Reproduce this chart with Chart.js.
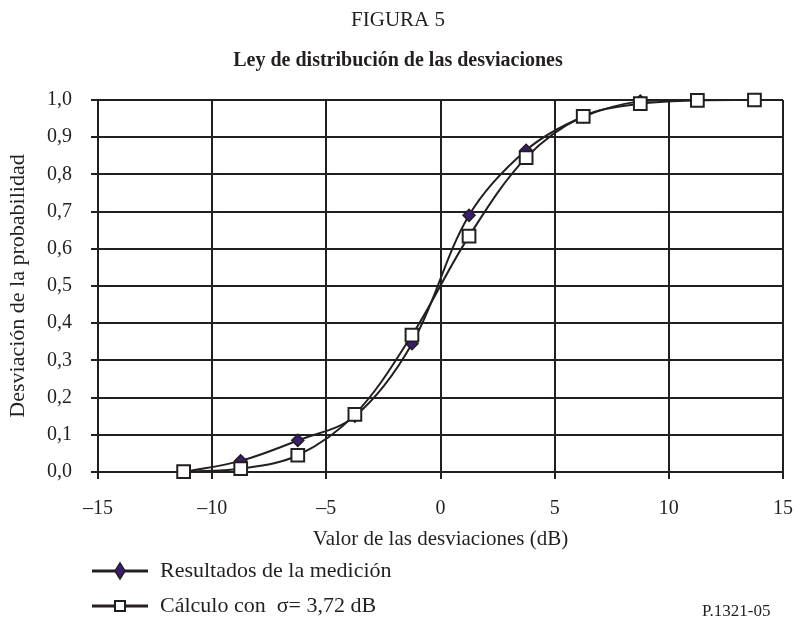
<!DOCTYPE html>
<html>
<head>
<meta charset="utf-8">
<script src="https://cdn.jsdelivr.net/npm/chart.js@4"></script>
<style>
  html, body { margin: 0; padding: 0; background: #fff; }
  #wrap { width: 796px; height: 620px; }
</style>
</head>
<body>
<div id="wrap"><canvas id="myChart" width="796" height="620"></canvas></div>
<script>
// valores
const desviaciones = [-11.25, -8.75, -6.25, -3.75, -1.25, 1.25, 3.75, 6.25, 8.75, 11.25, 13.75]
const medicion = [0.0, 0.03, 0.085, 0.15, 0.345, 0.69, 0.865, 0.955, 0.997, 1.0, 1.0]
const calculo = [0.001, 0.009, 0.045, 0.155, 0.368, 0.634, 0.845, 0.956, 0.99, 0.999, 1.0]
const xTicks = [-15, -10, -5, 0, 5, 10, 15]
const yTicks = [0, 0.1, 0.2, 0.3, 0.4, 0.5, 0.6, 0.7, 0.8, 0.9, 1.0]

const titulo = "FIGURA 5"
const subtitulo = "Ley de distribución de las desviaciones"
const nombres = ["Resultados de la medición", "Cálculo con  σ= 3,72 dB"]
const nota = "P.1321-05"

const ink = "#231f20"
const purple = "#3a1c71"

const toPoints = (xs, ys) => xs.map((x, i) => ({x: x, y: ys[i]}))

Chart.defaults.font.family = "'Liberation Serif', 'DejaVu Serif', serif"
Chart.defaults.color = ink

const textPlugin = {
   id: "textPlugin",
   afterDraw(chart) {
      const ctx = chart.ctx
      ctx.save()
      ctx.fillStyle = ink
      ctx.textAlign = "center"
      ctx.textBaseline = "middle"
      ctx.font = "21px 'Liberation Serif'"
      ctx.fillText(titulo, 398, 20)
      ctx.font = "bold 20px 'Liberation Serif'"
      ctx.fillText(subtitulo, 398, 61)

      // leyenda
      const rows = [571, 606]
      for (let i = 0; i < 2; i++) {
         const y = rows[i]
         ctx.strokeStyle = ink
         ctx.lineWidth = 3
         ctx.beginPath()
         ctx.moveTo(92, y)
         ctx.lineTo(148, y)
         ctx.stroke()
         ctx.lineWidth = 1.5
         if (i == 0) {
            ctx.fillStyle = purple
            ctx.beginPath()
            ctx.moveTo(120, y - 8)
            ctx.lineTo(125, y)
            ctx.lineTo(120, y + 8)
            ctx.lineTo(115, y)
            ctx.closePath()
            ctx.fill()
            ctx.stroke()
         } else {
            ctx.fillStyle = "#fff"
            ctx.lineWidth = 2
            ctx.fillRect(115, y - 5, 10, 10)
            ctx.strokeRect(115, y - 5, 10, 10)
         }
         ctx.fillStyle = ink
         ctx.textAlign = "left"
         ctx.font = "22px 'Liberation Serif'"
         ctx.fillText(nombres[i], 160, y)
      }
      ctx.font = "17px 'Liberation Serif'"
      ctx.fillText(nota, 702, 612)
      ctx.restore()
   }
}

const config = {
   type: "scatter",
   data: {
      datasets: [{
         label: nombres[1],
         data: toPoints(desviaciones, calculo),
         showLine: true,
         tension: 0.35,
         borderColor: ink,
         borderWidth: 2,
         pointStyle: "rect",
         pointRadius: 9,
         pointBackgroundColor: "#fff",
         pointBorderColor: ink,
         pointBorderWidth: 2,
         order: 0,
         clip: 10
      }, {
         label: nombres[0],
         data: toPoints(desviaciones, medicion),
         showLine: true,
         tension: 0.35,
         borderColor: ink,
         borderWidth: 2,
         pointStyle: "rectRot",
         pointRadius: 6,
         pointBackgroundColor: purple,
         pointBorderColor: ink,
         pointBorderWidth: 1.5,
         order: 1,
         clip: 10
      }]
   },
   options: {
      responsive: false,
      animation: false,
      layout: { padding: { top: 100, left: 0, right: 13, bottom: 68 } },
      plugins: {
         legend: { display: false },
         tooltip: { enabled: false }
      },
      scales: {
         x: {
            type: "linear",
            min: -15,
            max: 15,
            afterBuildTicks: s => { s.ticks = xTicks.map(v => ({value: v})) },
            afterFit: s => { s.height = 80; s.paddingLeft = 0; s.paddingRight = 0 },
            grid: { color: ink, lineWidth: 2, tickLength: 7, tickColor: ink },
            border: { color: ink, width: 2 },
            ticks: {
               padding: 18,
               font: { size: 20 },
               maxRotation: 0,
               callback: v => v < 0 ? "–" + Math.abs(v) : "" + v
            },
            title: {
               display: true,
               text: "Valor de las desviaciones (dB)",
               font: { size: 21 },
               padding: { top: 0, bottom: 0 }
            }
         },
         y: {
            min: 0,
            max: 1,
            afterBuildTicks: s => { s.ticks = yTicks.map(v => ({value: v})) },
            afterFit: s => { s.width = 98; s.paddingTop = 0; s.paddingBottom = 0 },
            grid: { color: ink, lineWidth: 2, tickLength: 7, tickColor: ink },
            border: { color: ink, width: 2 },
            ticks: {
               padding: 19,
               font: { size: 20 },
               callback: v => v.toFixed(1).replace(".", ",")
            },
            title: {
               display: true,
               text: "Desviación de la probabilidad",
               font: { size: 22 },
               padding: { top: 5, bottom: 0 }
            }
         }
      }
   },
   plugins: [textPlugin]
}

var myChart = new Chart(document.getElementById("myChart"), config)
</script>
</body>
</html>
